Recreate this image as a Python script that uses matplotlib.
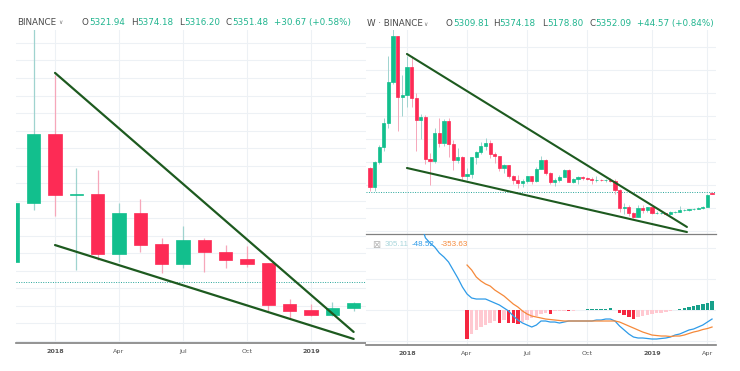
import numpy as np
import pandas as pd
import matplotlib
matplotlib.use("Agg")
import matplotlib.pyplot as plt
import matplotlib.dates as mdates
from matplotlib.ticker import MultipleLocator, FixedLocator

# ---------------- data: monthly candles (left) ----------------
m_labels = ["2017-11", "2017-12", "2018-01", "2018-02", "2018-03", "2018-04", "2018-05",
            "2018-06", "2018-07", "2018-08", "2018-09", "2018-10", "2018-11", "2018-12",
            "2019-01", "2019-02", "2019-03"]
m_open = [6490, 9860, 13800, 10320, 10380, 6950, 9290, 7520, 6380, 7750, 7060, 6660, 6440, 4100, 3750, 3470, 3870]
m_high = [11400, 19800, 17170, 11860, 11750, 9860, 10090, 7860, 8550, 7860, 7460, 7410, 6440, 4380, 4100, 4210, 4200]
m_low = [5500, 9460, 9120, 6040, 6610, 6490, 7060, 5870, 6150, 5920, 6150, 6210, 3700, 3300, 3400, 3410, 3700]
m_close = [9860, 13800, 10320, 10380, 6950, 9290, 7460, 6380, 7750, 7060, 6610, 6380, 4040, 3700, 3470, 3870, 4150]
m_tick_months = ["2018-01", "2018-04", "2018-07", "2018-10", "2019-01"]
m_tick_labels = ["2018", "Apr", "Jul", "Oct", "2019"]
m_trend_months = ["2018-01", "2019-03"]
m_trend_upper = [17290, 2500]
m_trend_lower = [7460, 2100]
m_last_price = 5351.48

# ---------------- data: weekly candles (right) ----------------
w_first_week = "2017-11-06"
w_open = [7480, 5830, 8030, 9300, 11400, 15000, 19000, 13700, 13830, 16300, 13600, 11650, 11950, 8300,
          8100, 10500, 9650, 11600, 9600, 8200, 8450, 6800, 7000, 8400, 8900, 9400, 9650, 8700, 8550,
          7450, 7700, 6770, 6450, 6150, 6380, 6750, 6350, 7400, 8200, 7030, 6300, 6400, 6700, 7280,
          6250, 6500, 6700, 6600, 6550, 6400, 6450, 6400, 6450, 6350, 5600, 4000, 4100, 3600, 3250,
          4000, 3800, 4050, 3550, 3560, 3570, 3450, 3650, 3670, 3800, 3850, 3900, 3950, 4000, 4100, 5300]
w_high = [7600, 8100, 9500, 11800, 17200, 19800, 19000, 15600, 17250, 17200, 14000, 12200, 12050, 8800,
          11000, 11800, 11700, 11800, 9900, 9200, 8500, 7500, 8450, 9000, 9700, 10050, 9900, 8900, 8550,
          7800, 7750, 6900, 6830, 6500, 6800, 6800, 7580, 8500, 8230, 7150, 6600, 6880, 7400, 7410,
          6600, 6800, 6780, 6700, 6700, 6800, 6550, 6520, 6600, 6480, 5650, 4400, 4250, 3650, 4300,
          4250, 4100, 4100, 3700, 3650, 3600, 3700, 3700, 4200, 3900, 3950, 4000, 4100, 4150, 5200, 5374]
w_low = [5500, 5450, 7800, 9000, 11000, 14800, 10700, 12000, 12800, 12800, 9000, 10000, 7800, 6000,
         7900, 9300, 9400, 8400, 7300, 7900, 6450, 6450, 6600, 7800, 8700, 9050, 8350, 7900, 7250,
         7050, 6650, 6130, 5750, 5800, 6200, 6070, 6300, 7350, 6900, 6120, 5880, 6250, 6680, 6250,
         6200, 6100, 6450, 6460, 6100, 6300, 6360, 6250, 6300, 5200, 3650, 3500, 3300, 3150, 3250,
         3550, 3650, 3500, 3500, 3450, 3350, 3400, 3550, 3650, 3750, 3700, 3800, 3900, 3950, 4100, 5179]
w_close = [5830, 8030, 9300, 11400, 15000, 19000, 13700, 13830, 16300, 13600, 11650, 11950, 8300, 8100,
           10500, 9650, 11600, 9600, 8200, 8450, 6800, 7000, 8400, 8900, 9400, 9650, 8700, 8550, 7450,
           7700, 6770, 6450, 6150, 6380, 6750, 6350, 7400, 8200, 7030, 6300, 6400, 6700, 7280, 6250,
           6500, 6700, 6600, 6550, 6400, 6450, 6400, 6450, 6350, 5600, 4000, 4100, 3600, 3250, 4000,
           3800, 4050, 3550, 3560, 3570, 3450, 3650, 3670, 3800, 3850, 3900, 3950, 4000, 4100, 5100, 5250]
w_tick_dates = ["2018-01-01", "2018-04-02", "2018-07-02", "2018-10-01", "2019-01-07", "2019-04-01"]
w_tick_labels = ["2018", "Apr", "Jul", "Oct", "2019", "Apr"]
w_trend_dates = ["2018-01-01", "2019-03-01"]
w_trend_upper = [17400, 2350]
w_trend_lower = [7480, 1910]
w_last_price = 5352.09

# MACD pane (weekly)
macd_first_week = "2018-01-22"
macd_line = [2800, 2330, 2164, 2035, 1841, 1712, 1550, 1292, 1034, 743, 517, 388, 355, 355, 355, 291,
             226, 162, 65, -32, -194, -323, -420, -485, -549, -485, -355, -355, -388, -388, -420, -388,
             -355, -355, -355, -355, -355, -355, -323, -323, -291, -291, -355, -517, -646, -775, -872,
             -904, -904, -920, -937, -937, -920, -904, -872, -808, -775, -711, -646, -614, -549, -485,
             -388, -291]
signal_first_week = "2018-04-02"
signal_line = [1453, 1292, 1066, 937, 840, 775, 646, 549, 452, 323, 194, 97, -32, -129, -194, -226,
               -258, -291, -307, -323, -339, -355, -355, -355, -355, -355, -355, -355, -355, -355,
               -355, -355, -355, -388, -452, -517, -581, -646, -711, -759, -808, -824, -840, -840,
               -856, -840, -840, -808, -759, -711, -678, -630, -598, -549]
hist_values = [-937, -775, -646, -549, -485, -420, -371, -404, -323, -404, -420, -436, -388, -323,
               -258, -194, -129, -97, -113, -48, -32, -16, -48, -26, -10, 10, 19, 29, 36, 42, 48, 52,
               16, -97, -162, -226, -291, -226, -194, -162, -129, -107, -81, -58, -32, 16, 39, 65, 97,
               129, 162, 194, 242, 307]

# ---------------- styling ----------------
W, H = 740, 371
GREEN = "#12bf8d"
RED = "#fd2b55"
GREEN_WICK = "#9fd3cf"
RED_WICK = "#f6a7ba"
TREND = "#1d5a1f"
GRID = "#edf1f5"
AXIS = "#808080"
LABEL = "#555555"
NUM = "#21b58f"
HDR = "#4a4a4a"

plt.rcParams["font.family"] = ["DejaVu Sans"]
fig = plt.figure(figsize=(W / 100, H / 100), dpi=100)
fig.patch.set_facecolor("white")


def box(x0, y0, x1, y1):
    return [x0 / W, 1 - y1 / H, (x1 - x0) / W, (y1 - y0) / H]


def candles(ax, x, o, h, l, c, width, wick_lw):
    o = np.asarray(o, float); h = np.asarray(h, float)
    l = np.asarray(l, float); c = np.asarray(c, float)
    up = c >= o
    body_col = np.where(up, GREEN, RED)
    wick_col = np.where(up, GREEN_WICK, RED_WICK)
    ax.vlines(x, l, h, colors=wick_col, linewidth=wick_lw, zorder=2)
    bottoms = np.minimum(o, c)
    heights = np.abs(c - o)
    ax.bar(x, heights, bottom=bottoms, width=width, color=body_col,
           edgecolor=body_col, linewidth=0.5, zorder=3)


def clean(ax):
    for s in ax.spines.values():
        s.set_visible(False)
    ax.tick_params(length=0, labelsize=4.6, colors=LABEL, pad=4.5)
    ax.set_axisbelow(True)


# ================= LEFT PANEL =================
ax1 = fig.add_axes(box(16, 30, 366, 343))
clean(ax1)
mx = np.arange(len(m_labels))
candles(ax1, mx, m_open, m_high, m_low, m_close, 0.63, 0.9)
pos = {m: i for i, m in enumerate(m_labels)}
ax1.plot([pos[m] for m in m_trend_months], m_trend_upper, color=TREND, lw=1.6, zorder=4,
         solid_capstyle="round")
ax1.plot([pos[m] for m in m_trend_months], m_trend_lower, color=TREND, lw=1.6, zorder=4,
         solid_capstyle="round")
ax1.axhline(m_last_price, color="#26a69a", lw=0.7, ls=(0, (1, 1.5)), zorder=1)
ax1.set_xlim(0.17, 16.58)
ax1.set_ylim(1868, 19740)
ax1.yaxis.set_major_locator(MultipleLocator(1000))
ax1.set_yticklabels([])
ax1.xaxis.set_major_locator(FixedLocator([pos[m] for m in m_tick_months]))
ax1.set_xticklabels(m_tick_labels)
ax1.grid(True, color=GRID, lw=0.8)
ax1.spines["bottom"].set_visible(True)
ax1.spines["bottom"].set_color(AXIS)
ax1.spines["bottom"].set_linewidth(1.2)
for t, lab in zip(ax1.get_xticklabels(), m_tick_labels):
    if lab.isdigit():
        t.set_fontweight("bold")

# ================= RIGHT PANEL =================
wdates = pd.date_range(w_first_week, periods=len(w_open), freq="7D")
wx = mdates.date2num(wdates)
xl = (mdates.date2num(pd.Timestamp("2017-10-31")), mdates.date2num(pd.Timestamp("2019-04-14")))
tick_x = mdates.date2num(pd.to_datetime(w_tick_dates))

ax2 = fig.add_axes(box(366, 30, 716, 234))
clean(ax2)
candles(ax2, wx, w_open, w_high, w_low, w_close, 4.8, 0.7)
tx = mdates.date2num(pd.to_datetime(w_trend_dates))
ax2.plot(tx, w_trend_upper, color=TREND, lw=1.5, zorder=4, solid_capstyle="round")
ax2.plot(tx, w_trend_lower, color=TREND, lw=1.5, zorder=4, solid_capstyle="round")
ax2.axhline(w_last_price, color="#26a69a", lw=0.7, ls=(0, (1, 1.5)), zorder=1)
ax2.set_xlim(*xl)
ax2.set_ylim(1738, 19486)
ax2.yaxis.set_major_locator(MultipleLocator(2000))
ax2.set_yticklabels([])
ax2.xaxis.set_major_locator(FixedLocator(tick_x))
ax2.set_xticklabels([])
ax2.grid(True, color=GRID, lw=0.8)

# MACD pane
ax3 = fig.add_axes(box(366, 234, 716, 345))
clean(ax3)
mdx = mdates.date2num(pd.date_range(macd_first_week, periods=len(macd_line), freq="7D"))
sdx = mdates.date2num(pd.date_range(signal_first_week, periods=len(signal_line), freq="7D"))
hv = np.asarray(hist_values, float)
prev = np.concatenate([[hv[0] - 1], hv[:-1]])
hcols = []
for v, p in zip(hv, prev):
    if v >= 0:
        hcols.append("#17a08a" if v > p else "#b2dfdb")
    else:
        hcols.append("#ffc9d1" if v > p else "#f5263f")
hcols[0] = "#f5263f"
ax3.bar(sdx, hv, width=5.2, color=hcols, zorder=2)
ax3.plot(mdx, macd_line, color="#2e9be8", lw=0.9, zorder=3)
ax3.plot(sdx, signal_line, color="#f5893a", lw=0.9, zorder=3)
ax3.set_xlim(*xl)
ax3.set_ylim(-1130, 2455)
ax3.yaxis.set_major_locator(MultipleLocator(1000))
ax3.set_yticklabels([])
ax3.xaxis.set_major_locator(FixedLocator(tick_x))
ax3.set_xticklabels(w_tick_labels)
ax3.grid(True, color=GRID, lw=0.8)
for side in ("bottom", "top"):
    ax3.spines[side].set_visible(True)
    ax3.spines[side].set_color(AXIS)
ax3.spines["bottom"].set_linewidth(1.2)
ax3.spines["top"].set_linewidth(0.9)
for t, lab in zip(ax3.get_xticklabels(), w_tick_labels):
    if lab.isdigit():
        t.set_fontweight("bold")

# ================= header texts (overlay in pixel coords) =================
ov = fig.add_axes([0, 0, 1, 1])
ov.set_xlim(0, W)
ov.set_ylim(H, 0)
ov.set_axis_off()
ov.patch.set_visible(False)
FS = 6.3


def seg(x, y, letter, value):
    t = ov.text(x, y, letter, color=HDR, fontsize=FS, va="center", ha="left")
    ov.annotate(value, xy=(1, 0.5), xycoords=t, va="center", ha="left",
                color=NUM, fontsize=FS)


# left header
ov.text(17, 22.5, "BINANCE", color=HDR, fontsize=FS, va="center", ha="left")
ov.text(58, 23.0, "\u2228", color="#777777", fontsize=4.2, va="center", ha="left")
for xx, letter, val in [(82, "O", "5321.94"), (131, "H", "5374.18"), (179, "L", "5316.20"),
                        (226, "C", "5351.48")]:
    seg(xx, 22.5, letter, val)
ov.text(274, 22.5, "+30.67 (+0.58%)", color=NUM, fontsize=FS, va="center", ha="left")

# right header
ov.text(367, 23.5, "W \u00b7 BINANCE", color=HDR, fontsize=FS, va="center", ha="left")
ov.text(423, 24.0, "\u2228", color="#777777", fontsize=4.2, va="center", ha="left")
for xx, letter, val in [(446, "O", "5309.81"), (493, "H", "5374.18"), (542, "L", "5178.80"),
                        (589, "C", "5352.09")]:
    seg(xx, 23.5, letter, val)
ov.text(637, 23.5, "+44.57 (+0.84%)", color=NUM, fontsize=FS, va="center", ha="left")

# MACD legend values
LF = "Liberation Sans"
ov.text(372, 245, "\u22a0", color="#b5b5b5", fontsize=7, va="center", ha="left")
ov.text(385, 245, "305.11", color="#a9d6dc", fontsize=5.8, family=LF, va="center", ha="left")
ov.text(412, 245, "-48.52", color="#2e9be8", fontsize=5.8, family=LF, va="center", ha="left")
ov.text(441, 245, "-353.63", color="#f5893a", fontsize=5.8, family=LF, va="center", ha="left")

fig.savefig("out.png", dpi=100, facecolor="white")
